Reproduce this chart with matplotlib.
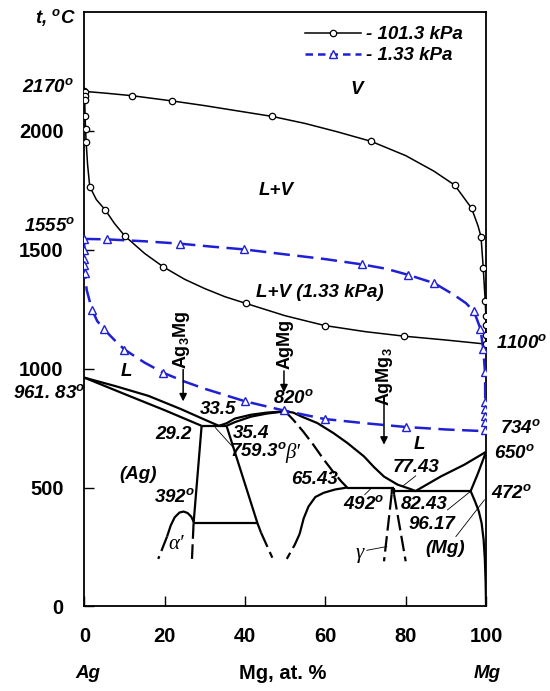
import numpy as np
import matplotlib
matplotlib.use("Agg")
import matplotlib.pyplot as plt
from matplotlib.lines import Line2D

plt.rcParams['font.family'] = ['Liberation Sans', 'DejaVu Sans']
plt.rcParams['mathtext.fontset'] = 'custom'
plt.rcParams['mathtext.rm'] = 'Liberation Sans:bold'
plt.rcParams['mathtext.it'] = 'Liberation Sans:italic:bold'
plt.rcParams['mathtext.bf'] = 'Liberation Sans:bold'

BLUE = '#1f1fd6'
DEG = '$^o$'

# ---- 101.3 kPa : vapour (dew) line
v101_x = [0, 5, 11.8, 21.8, 30, 40, 46.7, 55, 63, 71.4, 80, 87, 92.2, 96.4, 98.0, 98.75, 99.3, 99.8, 99.95, 100, 100, 100]
v101_y = [2165, 2158, 2147, 2125, 2105, 2078, 2060, 2030, 1995, 1955, 1895, 1830, 1771, 1674, 1600, 1554, 1424, 1283, 1223, 1185, 1143, 1104]
v101_mx = [0, 11.8, 21.8, 46.7, 71.4, 92.2, 96.4, 98.75, 99.3, 99.8, 100, 100, 100, 100]
v101_my = [2165, 2147, 2125, 2060, 1955, 1771, 1674, 1554, 1424, 1283, 1223, 1185, 1143, 1104]

# ---- 101.3 kPa : liquid (bubble) line
l101_x = [0, 0.05, 0.1, 0.2, 0.3, 0.45, 0.8, 1.35, 3, 5.2, 7.5, 10.1, 15, 19.7, 25, 30, 35, 40.2, 50, 59.8, 70, 79.7, 90, 98.75, 100]
l101_y = [2165, 2144, 2128, 2060, 2006, 1954, 1860, 1765, 1710, 1667, 1610, 1557, 1484, 1427, 1375, 1336, 1302, 1274, 1222, 1181, 1155, 1136, 1120, 1105, 1100]
l101_mx = [0.1, 0.1, 0.1, 0.2, 0.3, 0.45, 1.35, 5.2, 10.1, 19.7, 40.2, 59.8, 79.7]
l101_my = [2163, 2144, 2128, 2060, 2006, 1954, 1765, 1667, 1557, 1427, 1274, 1181, 1136]

# ---- 1.33 kPa : vapour line
v133_x = [0, 5.7, 15, 23.8, 32, 39.7, 50, 60, 69.0, 75, 80.6, 87.1, 92, 95, 97.0, 98.6, 99.3, 99.75, 99.8, 99.8, 99.8, 99.8, 99.8, 100]
v133_y = [1545, 1543, 1535, 1525, 1512, 1501, 1480, 1460, 1438, 1420, 1394, 1359, 1310, 1275, 1240, 1168, 1083, 984, 858, 830, 802, 774, 743, 734]
v133_mx = [5.7, 23.8, 39.7, 69.0, 80.6, 87.1, 97.0, 98.6, 99.3, 99.75, 99.8, 99.8, 99.8, 99.8, 99.8]
v133_my = [1543, 1525, 1501, 1438, 1394, 1359, 1240, 1168, 1083, 984, 858, 830, 802, 774, 743]

# ---- 1.33 kPa : liquid line
l133_x = [0, 0, 0, 0, 0.1, 0.6, 1.9, 3.2, 4.8, 7.5, 10.0, 15, 19.7, 25, 30, 40.1, 49.6, 59.8, 70, 80.0, 90, 99.6, 100]
l133_y = [1545, 1497, 1459, 1434, 1403, 1330, 1248, 1200, 1167, 1120, 1080, 1025, 982, 945, 915, 862, 824, 788, 770, 754.5, 744, 737, 734]
l133_mx = [0, 0, 0, 0, 0.1, 1.9, 4.8, 10.0, 19.7, 40.1, 49.6, 59.8, 80.0]
l133_my = [1545, 1497, 1459, 1434, 1403, 1248, 1167, 1080, 982, 862, 824, 788, 754.5]

# ---- condensed phase diagram, solid lines
liq_ag_x = [0, 8, 16, 24, 30, 33.5]
liq_ag_y = [961.83, 925, 885, 830, 785, 759.3]
sol_ag_x = [0, 10, 20, 29.2]
sol_ag_y = [961.83, 893, 825, 759.3]
eut1_x = [29.2, 35.4]
eut1_y = [759.3, 759.3]
liq_b_x = [33.5, 35.4, 37.5, 41.5, 45.5, 50]
liq_b_y = [759.3, 770, 790, 806, 815, 820]
sol_b_x = [35.4, 37.5, 41.5, 45.5, 50]
sol_b_y = [759.3, 775, 798, 811, 820]
liq_r_x = [50, 52, 54, 58, 62, 65.5, 69.6, 72.1, 74.6, 78, 81.3, 82.43, 85, 88.8, 94.6, 100]
liq_r_y = [820, 815, 799, 771, 729, 687, 631, 586, 546, 512, 493, 485, 510, 547, 596, 650]
solv_ag_x = [29.2, 27.2]
solv_ag_y = [759.3, 350]
hor350_x = [27.2, 43.1]
hor350_y = [350, 350]
bl_x = [35.4, 43.1, 44.0]
bl_y = [759.3, 350, 310]
dome_x = [20.6, 21.5, 22.5, 23.7, 24.7, 25.7, 26.6, 27.2]
dome_y = [294, 340, 375, 395, 399, 393, 378, 357]
br_low_x = [65.43, 62.5, 59.6, 57.5, 55.8, 54.6, 53.6]
br_low_y = [500, 492, 478, 460, 420, 370, 305]
per_x = [65.43, 77.1]
per_y = [500, 500]
eut2_x = [77.1, 96.17]
eut2_y = [485, 485]
gam_l_x = [76.6, 76.5]
gam_l_y = [500, 472]
gam_r_x = [77.1, 77.1]
gam_r_y = [500, 472]
mg_sol_x = [100, 98, 96.17]
mg_sol_y = [650, 560, 485]
mg_solv_x = [96.17, 97.3, 98.2, 98.9, 99.4, 99.7, 99.9, 100]
mg_solv_y = [485, 440, 400, 350, 280, 200, 100, 0]

# ---- dashed (uncertain) boundaries
d_br_up_x = [50, 52, 54.5, 57, 59.5, 62, 64, 65.43]
d_br_up_y = [820, 785, 735, 680, 620, 565, 525, 500]
d_bl_x = [44.0, 46.8]
d_bl_y = [310, 205]
d_dome_l_x = [20.6, 18.4]
d_dome_l_y = [294, 200]
d_dome_r_x = [27.2, 26.8]
d_dome_r_y = [350, 200]
d_br_low_x = [53.6, 52.4, 50.4]
d_br_low_y = [305, 260, 200]
d_gam_l_x = [76.5, 74.6]
d_gam_l_y = [472, 190]
d_gam_r_x = [77.1, 80.0]
d_gam_r_y = [472, 190]

fig = plt.figure(figsize=(5.5, 6.91), dpi=100)
ax = fig.add_axes([0.1533, 0.1223, 0.7304, 0.8608])
ax.set_xlim(0, 100)
ax.set_ylim(0, 2500)

# boiling curves
ax.plot(v101_x, v101_y, color='black', lw=1.1, zorder=3)
ax.plot(l101_x, l101_y, color='black', lw=1.1, zorder=3)
ax.plot(v101_mx, v101_my, ls='none', marker='o', ms=4.6, mfc='white', mec='black', mew=0.9, zorder=4)
ax.plot(l101_mx, l101_my, ls='none', marker='o', ms=4.6, mfc='white', mec='black', mew=0.9, zorder=4)

ax.plot(v133_x, v133_y, color=BLUE, lw=1.8, ls=(0, (6.5, 3)), zorder=3)
ax.plot(l133_x, l133_y, color=BLUE, lw=1.8, ls=(0, (6.5, 3)), zorder=3)
ax.plot(v133_mx, v133_my, ls='none', marker='^', ms=5.5, mfc='white', mec=BLUE, mew=1.0, zorder=4)
ax.plot(l133_mx, l133_my, ls='none', marker='^', ms=5.5, mfc='white', mec=BLUE, mew=1.0, zorder=4)

# phase diagram
solid = [(liq_ag_x, liq_ag_y), (sol_ag_x, sol_ag_y), (eut1_x, eut1_y), (liq_b_x, liq_b_y),
         (sol_b_x, sol_b_y), (liq_r_x, liq_r_y), (solv_ag_x, solv_ag_y), (hor350_x, hor350_y),
         (bl_x, bl_y), (dome_x, dome_y), (br_low_x, br_low_y), (per_x, per_y), (eut2_x, eut2_y),
         (gam_l_x, gam_l_y), (gam_r_x, gam_r_y), (mg_sol_x, mg_sol_y), (mg_solv_x, mg_solv_y)]
for xs, ys in solid:
    ax.plot(xs, ys, color='black', lw=1.6, solid_capstyle='butt', zorder=2)

dashed = [(d_br_up_x, d_br_up_y), (d_bl_x, d_bl_y), (d_dome_l_x, d_dome_l_y), (d_dome_r_x, d_dome_r_y),
          (d_br_low_x, d_br_low_y), (d_gam_l_x, d_gam_l_y), (d_gam_r_x, d_gam_r_y)]
for xs, ys in dashed:
    ax.plot(xs, ys, color='black', lw=1.6, ls=(0, (7, 2.5)), zorder=2)

# thin leader lines
leaders = [([37.2, 32.6], [666, 752]), ([69.8, 71.5], [470, 498]), ([82.5, 79.2], [549, 505]),
           ([90.4, 96.0], [406, 482]), ([92.5, 99.6], [294, 448]), ([70.3, 75.3], [236, 252])]
for xs, ys in leaders:
    ax.plot(xs, ys, color='black', lw=0.6, zorder=2)

# axes styling
for s in ax.spines.values():
    s.set_linewidth(1.3)
ax.set_xticks([0, 20, 40, 60, 80, 100])
ax.set_yticks([0, 500, 1000, 1500, 2000])
ax.tick_params(direction='in', length=7.5, width=1.0, pad=15, labelsize=14.5)
for lab in ax.get_xticklabels() + ax.get_yticklabels():
    lab.set_fontweight('bold')

bi = dict(fontsize=13.5, fontweight='bold', fontstyle='italic')
gr = dict(fontsize=15, family='Liberation Serif', fontstyle='italic')

fig.text(0.064, 0.975, 't, ' + DEG + 'C', ha='left', va='center', **bi)
ax.text(-2.5, 2182, '2170' + DEG, ha='right', va='center', clip_on=False, **bi)
ax.text(-2.3, 1599, '1555' + DEG, ha='right', va='center', clip_on=False, **bi)
ax.text(0.3, 898, '961. 83' + DEG, ha='right', va='center', clip_on=False, **bi)
ax.text(102.5, 1108, '1100' + DEG, ha='left', va='center', clip_on=False, **bi)
ax.text(103.4, 750, '734' + DEG, ha='left', va='center', clip_on=False, **bi)
ax.text(101.9, 645, '650' + DEG, ha='left', va='center', clip_on=False, **bi)
ax.text(101.2, 477, '472' + DEG, ha='left', va='center', clip_on=False, **bi)

ax.text(0.9, -281, 'Ag', ha='center', va='center', clip_on=False, **bi)
ax.text(100.3, -281, 'Mg', ha='center', va='center', clip_on=False, **bi)
ax.text(49.4, -281, 'Mg, at. %', ha='center', va='center', clip_on=False,
        fontsize=14.5, fontweight='bold')

ax.text(67.9, 2175, 'V', ha='center', va='center', **bi)
ax.text(47.8, 1747, 'L+V', ha='center', va='center', **bi)
ax.text(58.7, 1319, 'L+V (1.33 kPa)', ha='center', va='center', **bi)
ax.text(10.4, 989, 'L', ha='center', va='center', **bi)
ax.text(83.5, 680, 'L', ha='center', va='center', **bi)
ax.text(33.2, 827, '33.5', ha='center', va='center', **bi)
ax.text(22.2, 722, '29.2', ha='center', va='center', **bi)
ax.text(41.6, 729, '35.4', ha='center', va='center', **bi)
ax.text(43.2, 652, '759.3' + DEG, ha='center', va='center', **bi)
ax.text(52.0, 877, '820' + DEG, ha='center', va='center', **bi)
ax.text(13.5, 554, '(Ag)', ha='center', va='center', **bi)
ax.text(22.4, 462, '392' + DEG, ha='center', va='center', **bi)
ax.text(57.2, 533, '65.43', ha='center', va='center', **bi)
ax.text(69.6, 432, '492' + DEG, ha='center', va='center', **bi)
ax.text(82.5, 586, '77.43', ha='center', va='center', **bi)
ax.text(84.6, 427, '82.43', ha='center', va='center', **bi)
ax.text(86.5, 343, '96.17', ha='center', va='center', **bi)
ax.text(89.8, 245, '(Mg)', ha='center', va='center', **bi)
ax.text(51.8, 646, "β′", ha='center', va='center', **gr)
ax.text(22.9, 259, "α′", ha='center', va='center', **gr)
ax.text(68.6, 222, "γ", ha='center', va='center', **gr)

# compounds with arrows
ax.text(24.2, 1119, 'Ag$_3$Mg', rotation=90, ha='center', va='center', fontsize=13, fontweight='bold')
ax.text(50.0, 1105, 'AgMg', rotation=90, ha='center', va='center', fontsize=13, fontweight='bold')
ax.text(74.8, 965, 'AgMg$_3$', rotation=90, ha='center', va='center', fontsize=13, fontweight='bold')
arr = dict(arrowstyle='-|>', color='black', lw=1.1, mutation_scale=11, shrinkA=0, shrinkB=0)
ax.annotate('', xy=(24.6, 862), xytext=(24.6, 996), arrowprops=arr)
ax.annotate('', xy=(49.7, 900), xytext=(49.7, 990), arrowprops=arr)
ax.annotate('', xy=(74.6, 680), xytext=(74.6, 860), arrowprops=arr)

# legend
h1 = Line2D([], [], color='black', lw=1.1, marker='o', ms=4.6, mfc='white', mec='black', mew=0.9)
h2 = Line2D([], [], color=BLUE, lw=1.8, ls=(0, (3, 2)), marker='^', ms=5.5, mfc='white', mec=BLUE, mew=1.0)
ax.legend([h1, h2], ['- 101.3 kPa', '- 1.33 kPa'], loc='upper right', bbox_to_anchor=(0.985, 1.004),
          frameon=False, handlelength=3.0, handletextpad=0.3, labelspacing=0.2, numpoints=1,
          prop=dict(family='Liberation Sans', size=13.5, weight='bold', style='italic'))

fig.savefig('out.png', dpi=100)
